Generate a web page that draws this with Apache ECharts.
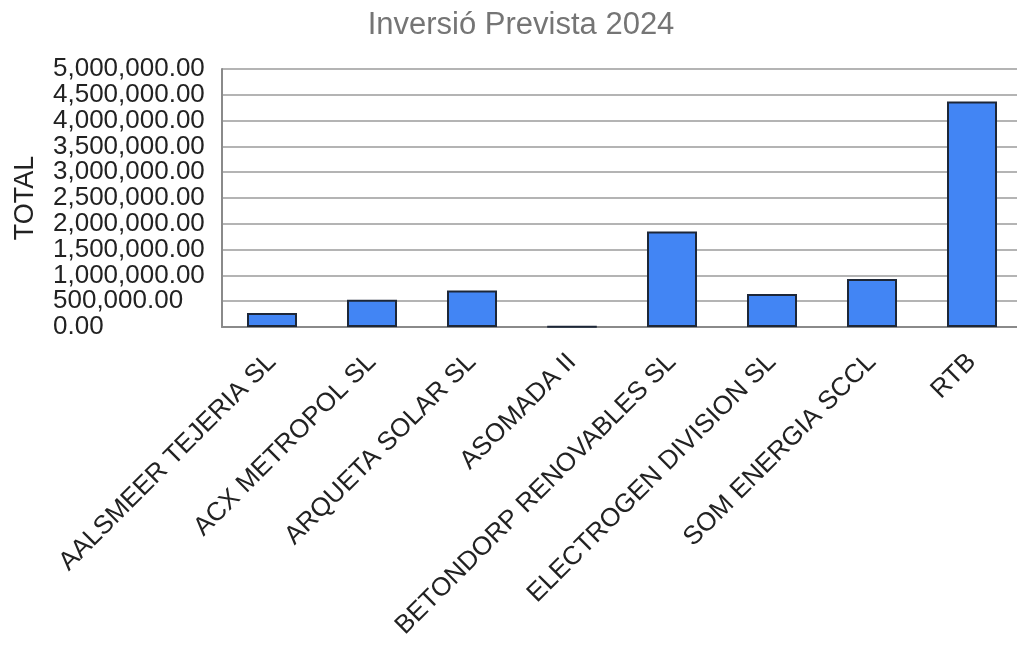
<!DOCTYPE html>
<html>
<head>
<meta charset="utf-8">
<script src="https://cdn.jsdelivr.net/npm/echarts@6/dist/echarts.min.js"></script>
<style>
  html, body { margin: 0; padding: 0; background: #fff; }
  #chart { width: 1017px; height: 645px; }
</style>
</head>
<body>
<div id="chart"></div>
<script>
// dades
var empreses = ['AALSMEER TEJERIA SL', 'ACX METROPOL SL', 'ARQUETA SOLAR SL', 'ASOMADA II',
  'BETONDORP RENOVABLES SL', 'ELECTROGEN DIVISION SL', 'SOM ENERGIA SCCL', 'RTB'];
var totals = [270000, 530000, 705000, 8000, 1850000, 640000, 930000, 4370000];
var yMin = 0, yMax = 5000000, yStep = 500000;

function fmt(v) {
  return v.toLocaleString('en-US', { minimumFractionDigits: 2, maximumFractionDigits: 2 });
}

var labelStyle = {
  align: 'left',
  margin: 169,
  fontFamily: 'Liberation Sans',
  fontSize: 26,
  color: '#222'
};

var chart = echarts.init(document.getElementById('chart'));
var option = {
  animation: false,
  title: {
    text: 'Inversió Prevista 2024',
    left: 516,
    textAlign: 'center',
    top: 5,
    textStyle: { fontFamily: 'Liberation Sans', fontSize: 31, fontWeight: 'normal', color: '#757575' }
  },
  grid: { left: 222, right: -5, top: 69, bottom: 318, outerBoundsMode: 'none' },
  xAxis: {
    type: 'category',
    data: empreses,
    axisTick: { show: false },
    axisLine: { lineStyle: { color: '#8a8a8a', width: 2 } },
    axisLabel: {
      interval: 0,
      rotate: 45,
      margin: 31,
      fontFamily: 'Liberation Sans',
      fontSize: 26,
      color: '#222'
    }
  },
  yAxis: [{
    type: 'value',
    min: yMin, max: yMax, interval: yStep,
    name: 'TOTAL',
    nameLocation: 'middle',
    nameRotate: 90,
    nameGap: 183,
    nameTextStyle: { fontFamily: 'Liberation Sans', fontSize: 27, color: '#222' },
    axisLine: { show: true, lineStyle: { color: '#8a8a8a', width: 2 } },
    axisTick: { show: false },
    splitLine: { lineStyle: { color: '#b4b4b4', width: 2 } },
    axisLabel: Object.assign({ showMaxLabel: false, formatter: fmt }, labelStyle)
  }, {
    // eix auxiliar només per a l'etiqueta del màxim
    type: 'value',
    position: 'left',
    min: yMin, max: yMax, interval: yMax,
    axisLine: { show: false },
    axisTick: { show: false },
    splitLine: { show: false },
    axisLabel: Object.assign({
      formatter: function (v) { return v === yMax ? fmt(v) : ''; }
    }, labelStyle)
  }],
  series: [{
    name: 'TOTAL',
    type: 'bar',
    data: totals,
    barWidth: '50%',
    itemStyle: { color: '#4285f4', borderColor: '#1d2738', borderWidth: 2 }
  }]
};
chart.setOption(option);
</script>
</body>
</html>
